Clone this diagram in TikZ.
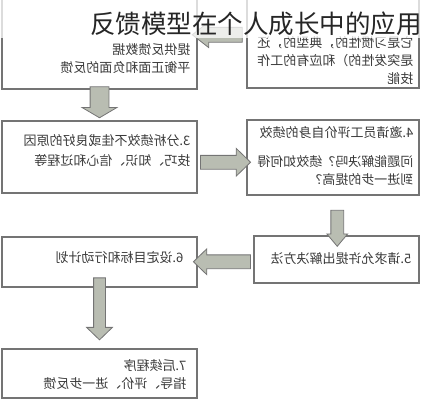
\documentclass[tikz,border=0pt]{standalone}
\usepackage{fontspec}
\setmainfont{Noto Sans CJK SC}
\usetikzlibrary{shapes.arrows,calc}
\definecolor{arrowfill}{HTML}{B9BDB2}
\definecolor{edgegray}{HTML}{747474}
\definecolor{inkgray}{HTML}{3A3A3A}
\newcommand{\flipped}[1]{\reflectbox{\begin{tabular}{@{}l@{}}#1\end{tabular}}}

\begin{document}
\begin{tikzpicture}[x=1pt,y=-1pt,
		stage/.style={draw=edgegray,line width=1.1pt,fill=white,inner sep=0pt},
		stagetext/.style={text=inkgray,font=\fontsize{13}{18}\selectfont,inner sep=0pt,anchor=east},
		flow/.style={single arrow,draw=edgegray,fill=arrowfill,line width=0.8pt,inner xsep=0pt,single arrow head indent=0pt}]
		\clip (0,0) rectangle (421,400);
		% boxes
		\node [stage,minimum width=172pt,minimum height=93pt] (b1) at (333,41.5) {};
		\node [stage,minimum width=195pt,minimum height=94pt] (b2) at (99.5,42) {};
		\node [stage,minimum width=195pt,minimum height=72pt] (b3) at (99.5,157) {};
		\node [stage,minimum width=172pt,minimum height=75pt] (b4) at (333,157.5) {};
		\node [stage,minimum width=165pt,minimum height=47pt] (b5) at (336.5,259.5) {};
		\node [stage,minimum width=195pt,minimum height=50pt] (b6) at (99.5,262) {};
		\node [stage,minimum width=195pt,minimum height=49pt] (b7) at (99.5,373.5) {};
		% texts (mirrored)
		\node [stagetext] (t1) at ([xshift=-6pt,yshift=-20pt]b1.east) {\flipped{它是习惯性的，典型的，还\\是突发性的）和应有的工作\\技能}};
		\node [stagetext] (t2) at ([xshift=-7pt,yshift=-17.5pt]b2.east) {\flipped{提供反馈数据\\平衡正面和负面的反馈}};
		\node [stagetext] (t3) at ([xshift=-7pt,yshift=5pt]b3.east) {\flipped{3.分析绩效不佳或良好的原因\\[2pt]技巧、知识、信心和过程等}};
		\node [stagetext] (t4) at ([xshift=-6pt]b4.east) {\flipped{4.邀请员工评价自身的绩效\\[11pt]问题能解决吗？绩效如何得\\到进一步的提高？}};
		\node [stagetext] (t5) at ([xshift=-8pt]b5.east) {\flipped{5.请求允许提出解决方法}};
		\node [stagetext] (t6) at ([xshift=-14pt,yshift=3pt]b6.east) {\flipped{6.设定目标和行动计划}};
		\node [stagetext] (t7) at ([xshift=-11pt,yshift=-2.5pt]b7.east) {\flipped{7.后续程序\\指导、评价、进一步反馈}};
		% block arrows
		\node [flow,rotate=180,minimum height=50pt,minimum width=25pt,inner ysep=7pt,single arrow head extend=5.5pt,single arrow tip angle=76,yshift=-7pt] (a12) at ($(b1.west)!0.5!(b2.east)$) {};
		\node [flow,rotate=-90,minimum height=31pt,minimum width=34pt,inner ysep=9pt,single arrow head extend=8pt,single arrow tip angle=119,xshift=-5.5pt] (a23) at ($(b2.south)!0.5!(b3.north)$) {};
		\node [flow,minimum height=50pt,minimum width=27pt,inner ysep=6.5pt,single arrow head extend=7pt,single arrow tip angle=88,yshift=-5pt] (a34) at ($(b3.east)!0.5!(b4.west)$) {};
		\node [flow,rotate=-90,minimum height=36pt,minimum width=20pt,inner ysep=6pt,single arrow head extend=4pt,single arrow tip angle=80,xshift=9pt,yshift=2.5pt] (a45) at ($(b4.south)!0.5!(b5.north)$) {};
		\node [flow,rotate=180,minimum height=57pt,minimum width=25pt,inner ysep=6.5pt,single arrow head extend=6pt,single arrow tip angle=88,yshift=1pt] (a56) at ($(b5.west)!0.5!(b6.east)$) {};
		\node [flow,rotate=-90,minimum height=62pt,minimum width=25pt,inner ysep=5.5pt,single arrow head extend=7pt,single arrow tip angle=92,xshift=-12pt] (a67) at ($(b6.south)!0.5!(b7.north)$) {};
		% title band
		\fill [white,opacity=0.75] (0,0) rectangle (421,38);
		\node [anchor=east,inner sep=0pt,text=black!85,font=\fontsize{25.5}{28}\selectfont] (title) at (422,24) {反馈模型在个人成长中的应用};
	\end{tikzpicture}
\end{document}
